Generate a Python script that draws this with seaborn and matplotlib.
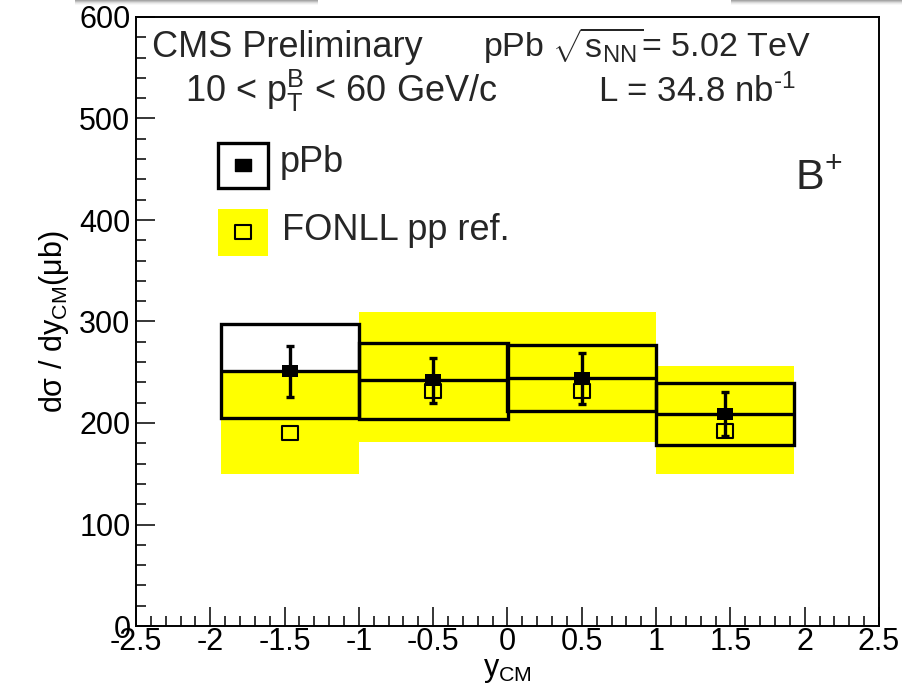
import numpy as np
import pandas as pd
import matplotlib
matplotlib.use("Agg")
import matplotlib.pyplot as plt
from matplotlib.patches import Rectangle
from matplotlib.path import Path
from matplotlib.ticker import MultipleLocator
import seaborn as sns

# B+ production cross section vs centre-of-mass rapidity, pPb at 5.02 TeV
y_edges = [-1.93, -1.0, 0.0, 1.0, 1.93]
y_centers = [-1.465, -0.5, 0.5, 1.465]

ppb_xsec = [251, 242, 244, 209]
ppb_stat = [25, 22, 25, 22]
ppb_syst_lo = [205, 204, 212, 178]
ppb_syst_hi = [298, 279, 277, 239]

fonll_xsec = [190, 232, 232, 192]
fonll_lo = [150, 181, 181, 150]
fonll_hi = [252, 309, 309, 256]

x_ticks = [-2.5, -2, -1.5, -1, -0.5, 0, 0.5, 1, 1.5, 2, 2.5]
x_ticklabels = ["-2.5", "-2", "-1.5", "-1", "-0.5", "0", "0.5", "1", "1.5", "2", "2.5"]
y_ticks = [0, 100, 200, 300, 400, 500, 600]

sns.set_theme(style="white")
plt.rcParams["font.family"] = ["Liberation Sans", "DejaVu Sans"]
plt.rcParams["mathtext.fontset"] = "custom"
plt.rcParams["mathtext.rm"] = "Liberation Sans"
plt.rcParams["mathtext.it"] = "Liberation Sans:italic"
plt.rcParams["mathtext.bf"] = "Liberation Sans:bold"
plt.rcParams["axes.unicode_minus"] = False

df = pd.DataFrame({
    "y": y_centers,
    "ppb": ppb_xsec,
    "stat": ppb_stat,
    "fonll": fonll_xsec,
})
edges = np.array(y_edges)
lefts = edges[:-1]
widths = np.diff(edges)

# slightly wide box marker
BOX = Path([(-1.22, -1), (1.22, -1), (1.22, 1), (-1.22, 1), (-1.22, -1)],
           [Path.MOVETO, Path.LINETO, Path.LINETO, Path.LINETO, Path.CLOSEPOLY])

fig = plt.figure(figsize=(9.03, 6.96), dpi=100)
ax = fig.add_axes([136 / 903, 1 - 626 / 696, (879 - 136) / 903, (626 - 17) / 696])

YELLOW = "#ffff00"
FS = 26
TICK_FS = 22
LAB_FS = 22

# FONLL reference bands
ax.bar(lefts, np.array(fonll_hi) - np.array(fonll_lo), width=widths,
       bottom=fonll_lo, align="edge", color=YELLOW, edgecolor="none", zorder=1)

# pPb systematic boxes and central values
ax.bar(lefts, np.array(ppb_syst_hi) - np.array(ppb_syst_lo), width=widths,
       bottom=ppb_syst_lo, align="edge", fill=False, edgecolor="black",
       linewidth=2.4, zorder=2)
ax.hlines(ppb_xsec, lefts, edges[1:], colors="black", linewidth=2.4, zorder=2)

# FONLL central values
ax.plot(df["y"], df["fonll"], linestyle="none", marker=BOX, markersize=11.5,
        markerfacecolor="none", markeredgecolor="black", markeredgewidth=1.5, zorder=3)

# pPb statistical errors and points
ax.errorbar(df["y"], df["ppb"], yerr=df["stat"], fmt="none", ecolor="black",
            elinewidth=2.4, capsize=3, capthick=2.4, zorder=4)
sns.scatterplot(data=df, x="y", y="ppb", marker=BOX, s=118, color="black",
                edgecolor="black", linewidth=0, ax=ax, zorder=5)

ax.set_xlim(-2.5, 2.5)
ax.set_ylim(0, 600)
ax.set_xticks(x_ticks)
ax.set_xticklabels(x_ticklabels)
ax.set_yticks(y_ticks)
ax.xaxis.set_minor_locator(MultipleLocator(0.1))
ax.yaxis.set_minor_locator(MultipleLocator(20))
ax.tick_params(axis="both", which="both", direction="in", bottom=True, left=True,
               top=False, right=False, labelsize=TICK_FS, color="black",
               labelcolor="black")
ax.tick_params(axis="both", which="major", length=14, width=1.1)
ax.tick_params(axis="both", which="minor", length=7, width=1.1)
ax.tick_params(axis="x", which="major", pad=1)
ax.tick_params(axis="y", which="major", pad=4)
for side in ax.spines.values():
    side.set_color("black")
    side.set_linewidth(1.4)

ax.set_xlabel(r"y$_{\mathrm{CM}}$", fontsize=LAB_FS, color="black")
ax.set_ylabel(r"dσ / dy$_{\mathrm{CM}}$(μb)", fontsize=LAB_FS, color="black")
ax.xaxis.set_label_coords(0.5, -0.048)
ax.yaxis.set_label_coords(-0.088, 0.5)

# Header text
ax.text(-2.39, 561, "CMS Preliminary", fontsize=FS, va="baseline", ha="left")
ax.text(-0.165, 561, r"pPb $\sqrt{\mathrm{s}_{\mathrm{NN}}}$= 5.02 TeV", fontsize=24.5,
        va="baseline", ha="left")
ax.text(-2.17, 516, r"10 < $\mathrm{p}_{\mathrm{T}}^{\mathrm{B}}$ < 60 GeV/c",
        fontsize=FS, va="baseline", ha="left")
ax.text(0.61, 516, r"L = 34.8 nb$^{\text{-}1}$", fontsize=25,
        va="baseline", ha="left")
ax.text(1.935, 430, r"B$^{+}$", fontsize=31, va="baseline", ha="left")

# Legend
ax.add_patch(Rectangle((-1.95, 432), 0.335, 44, facecolor="white",
                       edgecolor="black", linewidth=2.4, zorder=6))
ax.plot([-1.783], [454], linestyle="none", marker=BOX, markersize=11,
        color="black", zorder=7)
ax.add_patch(Rectangle((-1.95, 365), 0.335, 46, facecolor=YELLOW,
                       edgecolor="none", zorder=6))
ax.plot([-1.783], [388], linestyle="none", marker=BOX, markersize=11.5,
        markerfacecolor="none", markeredgecolor="black", markeredgewidth=1.5, zorder=7)
ax.text(-1.53, 447, "pPb", fontsize=FS, va="baseline", ha="left")
ax.text(-1.52, 380, "FONLL pp ref.", fontsize=FS, va="baseline", ha="left")

# soft grey strips along the top edge
for i, a in enumerate([0.35, 0.25, 0.15, 0.08, 0.03]):
    for x0, x1 in [(75, 318), (731, 903)]:
        fig.patches.append(Rectangle((x0 / 903, 1 - (i + 1) / 696), (x1 - x0) / 903,
                                     1 / 696, transform=fig.transFigure,
                                     facecolor="black", alpha=a, edgecolor="none"))

fig.savefig("out.png", dpi=100)
